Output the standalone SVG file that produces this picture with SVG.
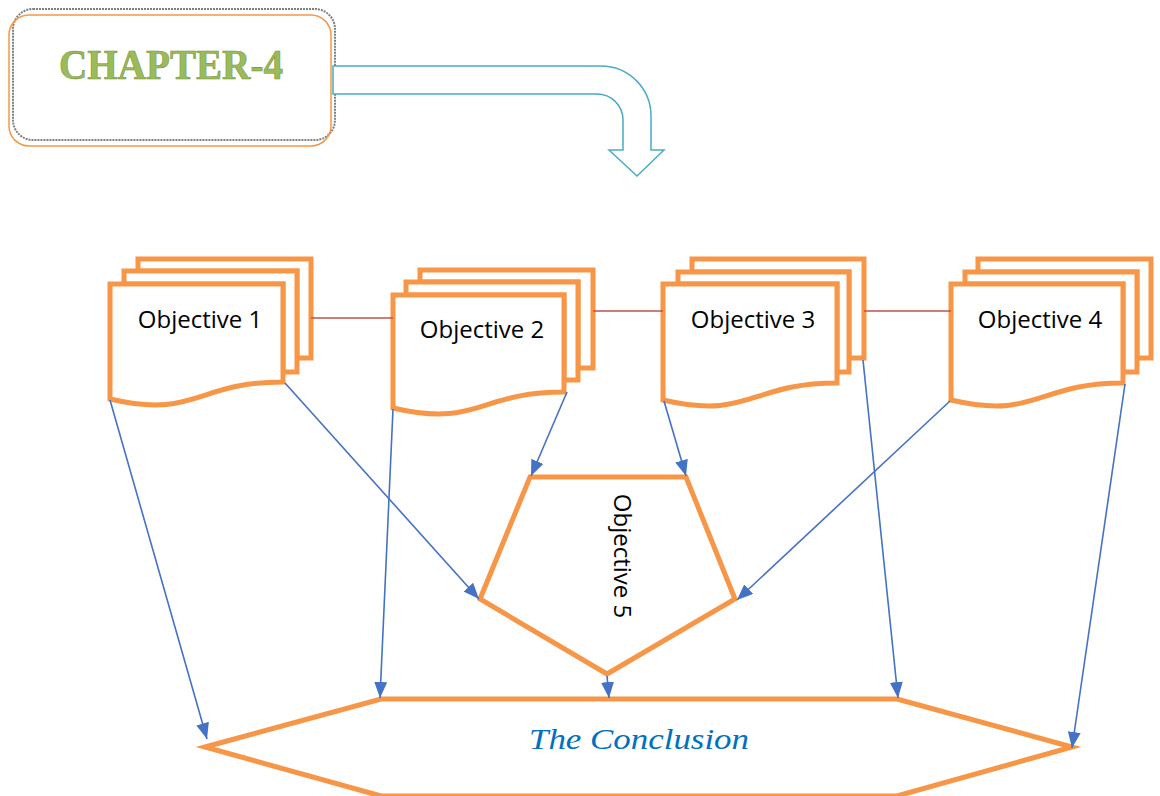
<svg xmlns="http://www.w3.org/2000/svg" width="1160" height="796" viewBox="0 0 1160 796">
<style>
.doc{fill:#fff;stroke:#F79646;stroke-width:5;stroke-linejoin:miter}
.shape{fill:#fff;stroke:#F79646;stroke-width:5;stroke-linejoin:miter}
.lbl{font-family:"Open Sans","Liberation Sans",sans-serif;font-size:24px;fill:#000;text-anchor:middle}
.red{stroke:#C0504D;stroke-width:1.5;fill:none}
.blue{stroke:#4472C4;stroke-width:1.6;fill:none;marker-end:url(#ah)}
</style>
<defs>
<marker id="ah" viewBox="0 0 16 13" refX="16" refY="6.5" markerWidth="16" markerHeight="13" markerUnits="userSpaceOnUse" orient="auto">
<path d="M0,0 L16,6.5 L0,13 Z" fill="#4472C4"/>
</marker>
</defs>
<rect width="1160" height="796" fill="#fff"/>

<g id="chapter">
<rect x="13" y="9" width="322" height="131" rx="20" fill="none" stroke="#7F7F7F" stroke-width="2" stroke-dasharray="2 1"/>
<rect x="9" y="15" width="322" height="131" rx="20" fill="none" stroke="#F79646" stroke-width="1.5"/>
<text x="171" y="79" font-family="Liberation Serif,serif" font-weight="bold" font-size="42" fill="#9BBB59" stroke="#76923C" stroke-width="0.6" text-anchor="middle" textLength="224" lengthAdjust="spacingAndGlyphs">CHAPTER-4</text>
</g>

<g id="bent-arrow">
<path d="M333,66 H601 A50,50 0 0 1 651,116 V150 H664 L637,176 L609,150 H623 V120 A26,26 0 0 0 597,94 H333 Z" fill="#fff" stroke="#4BACC6" stroke-width="1.5" stroke-linejoin="miter"/>
</g>

<g id="obj1">
<path class="doc" d="M138,259 H311 V358 H297 V271 H138 Z"/>
<path class="doc" d="M124,271 H297 V372 H283 V284 H124 Z"/>
<path class="doc" d="M110,284 H283 V382 C196,382 196,419 110,399 Z"/>
<text class="lbl" x="200" y="328">Objective 1</text>
</g>

<g id="obj2">
<path class="doc" d="M420,270 H593 V368 H578 V282 H420 Z"/>
<path class="doc" d="M406,282 H578 V380 H564 V295 H406 Z"/>
<path class="doc" d="M393,295 H564 V392 C478,392 478,428 393,408 Z"/>
<text class="lbl" x="482" y="338">Objective 2</text>
</g>

<g id="obj3">
<path class="doc" d="M692,259 H864 V358 H849 V272 H692 Z"/>
<path class="doc" d="M678,272 H849 V372 H837 V284 H678 Z"/>
<path class="doc" d="M663,284 H837 V383 C750,383 750,420 663,400 Z"/>
<text class="lbl" x="753" y="328">Objective 3</text>
</g>

<g id="obj4">
<path class="doc" d="M978,259 H1151 V358 H1137 V272 H978 Z"/>
<path class="doc" d="M965,272 H1137 V372 H1123 V284 H965 Z"/>
<path class="doc" d="M951,284 H1123 V383 C1037,383 1037,420 951,400 Z"/>
<text class="lbl" x="1040" y="328">Objective 4</text>
</g>

<g id="obj5">
<polygon class="shape" points="530,477 686,477 735,599 607,674 480,599"/>
<text class="lbl" transform="translate(614,556) rotate(90)" x="0" y="0">Objective 5</text>
</g>

<g id="conclusion">
<polygon class="shape" points="205,747 381,699 897,699 1072,747 897,796 381,796"/>
<text x="639" y="749" font-family="Liberation Serif,serif" font-style="italic" font-size="30" fill="#0070C0" text-anchor="middle" textLength="220" lengthAdjust="spacingAndGlyphs">The Conclusion</text>
</g>

<g id="connectors">
<line class="red" x1="311" y1="318" x2="393" y2="318"/>
<line class="red" x1="593" y1="311" x2="663" y2="311"/>
<line class="red" x1="864" y1="311" x2="951" y2="311"/>
<line class="blue" x1="110" y1="400" x2="207" y2="739"/>
<line class="blue" x1="285" y1="383" x2="479" y2="599"/>
<line class="blue" x1="393" y1="409" x2="380" y2="698"/>
<line class="blue" x1="567" y1="392" x2="531" y2="476"/>
<line class="blue" x1="664" y1="401" x2="686" y2="476"/>
<line class="blue" x1="863" y1="360" x2="898" y2="698"/>
<line class="blue" x1="950" y1="401" x2="737" y2="600"/>
<line class="blue" x1="1125" y1="384" x2="1072" y2="748"/>
<line class="blue" x1="607" y1="676" x2="609" y2="698"/>
</g>
</svg>
